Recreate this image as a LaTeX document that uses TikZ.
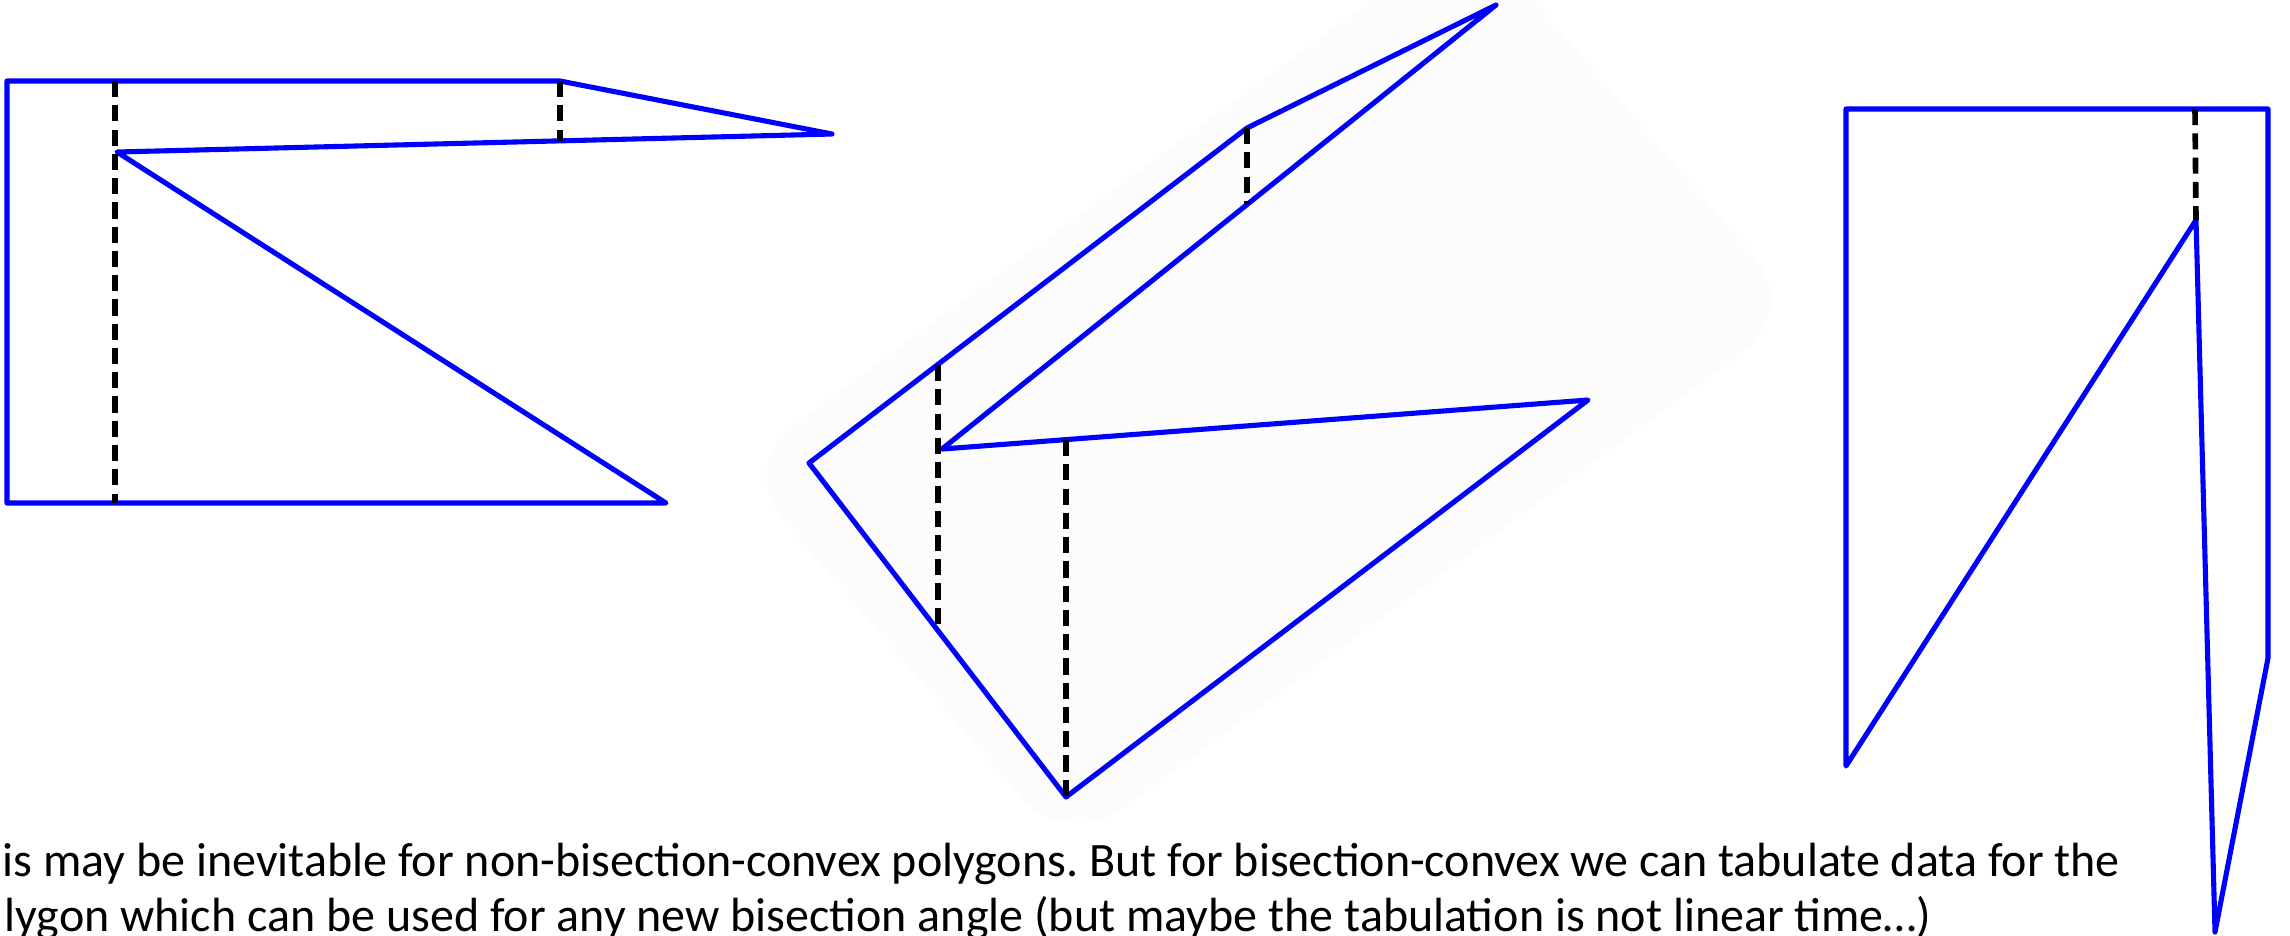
\documentclass[tikz,border=0pt]{standalone}
\usepackage{fontspec}
\setmainfont{Carlito}
\usepackage{tikz}
\usetikzlibrary{positioning}

\definecolor{polyblue}{RGB}{0,0,255}
\definecolor{paleback}{RGB}{252,252,252}

\begin{document}
\frenchspacing
\begin{tikzpicture}[
    x=0.01cm, y=-0.01cm,
    edge/.style={draw=polyblue, line width=1.45pt, line join=round, line cap=round},
    cut/.style={draw=black, line width=1.6pt, dash pattern=on 4.6pt off 2.3pt},
    caption/.style={anchor=base west, inner sep=0pt, font=\fontsize{13.65}{16.6}\selectfont},
]
\useasboundingbox (0,0) rectangle (2290,935);

% pale square behind middle polygon
\coordinate (bgL) at (737,467);
\coordinate (bgB) at (1066,850);
\coordinate (bgR) at (1800,310);
\coordinate (bgT) at (1471,-73);
\fill[paleback, rounded corners=20pt] (bgL) -- (bgB) -- (bgR) -- (bgT) -- cycle;

% left polygon
\coordinate (a1) at (7,81);
\coordinate (a2) at (560,81);
\coordinate (a3) at (832,134);
\coordinate (a4) at (117,152);
\coordinate (a5) at (666,503);
\coordinate (a6) at (7,503);
\draw[edge] (a1) -- (a2) -- (a3) -- (a4) -- (a5) -- (a6) -- cycle;

\coordinate (ad1) at (115,81);
\coordinate (ad2) at (115,503);
\coordinate (ad3) at (560,141);
\draw[cut] (ad1) -- (ad2);
\draw[cut] (a2) -- (ad3);

% middle polygon
\coordinate (m1) at (809,463);
\coordinate (m2) at (1247,128);
\coordinate (m3) at (1496,5);
\coordinate (m4) at (942,449);
\coordinate (m5) at (1588,400);
\coordinate (m6) at (1066,797);
\draw[edge] (m1) -- (m2) -- (m3) -- (m4) -- (m5) -- (m6) -- cycle;

\coordinate (md1) at (938,365);
\coordinate (md2) at (938,631);
\coordinate (md3) at (1066,440);
\coordinate (md4) at (1247,204);
\draw[cut] (md1) -- (md2);
\draw[cut] (md3) -- (m6);
\draw[cut] (m2) -- (md4);

% right polygon
\coordinate (r1) at (1846,109);
\coordinate (r2) at (2268,109);
\coordinate (r3) at (2268,658);
\coordinate (r4) at (2215,932);
\coordinate (r5) at (2196,220);
\coordinate (r6) at (1846,766);
\draw[edge] (r1) -- (r2) -- (r3) -- (r4) -- (r5) -- (r6) -- cycle;

\coordinate (rd1) at (2195,109);
\draw[cut] (rd1) -- (r5);

% text
\node[caption] (line1) at (2,876) {is may be inevitable for non-bisection-convex polygons. But for bisection-convex we can tabulate data for the};
\node[caption] (line2) at (4,931) {lygon which can be used for any new bisection angle (but maybe the tabulation is not linear time…)};

\end{tikzpicture}
\end{document}
